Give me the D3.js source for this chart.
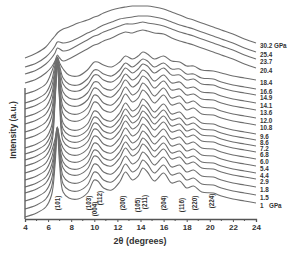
<!DOCTYPE html>
<html>
<head>
<meta charset="utf-8">
<script src="https://cdn.jsdelivr.net/npm/d3@7"></script>
<style>
  body { margin: 0; background: #fff; }
  text { font-family: "Liberation Sans", Arial, sans-serif; }
</style>
</head>
<body>
<div id="viz"></div>
<script>
const width = 300;
const height = 258;
const margin = {top: 7, right: 44, bottom: 39, left: 25};

// 2theta sample points (degrees)
const twoTheta = [4, 5, 5.8, 6.3, 6.6, 6.8, 7.0, 7.3, 7.8, 8.6, 9.4, 10.0, 10.3, 10.8, 11.5, 12.2,
                  12.7, 13.3, 13.8, 14.2, 14.6, 15.2, 16.0, 16.7, 17.4, 18.0, 18.6, 19.3, 20.3, 21.0, 22, 23, 24];

// pressure labels, bottom curve first
const pressures = ['1', '1.5', '1.8', '2.9', '4.4', '5.4', '6.0', '6.8', '7.2', '8.6', '9.6', '10.8',
                   '12.0', '13.6', '14.1', '14.9', '16.6', '18.4', '20.4', '23.7', '25.4', '30.2'];

// intensity (a.u., stacked)
const s1_0  = [2, 6, 12, 24, 54, 89, 54, 27, 21, 20, 26, 39, 38, 31, 29, 37, 47, 39, 43, 51, 47, 38, 46, 36, 38, 31, 33, 27, 26, 23, 20, 18, 16];
const s1_5  = [10, 14, 20, 32, 61, 90, 62, 35, 29, 28, 34, 47, 46, 39, 37, 45, 55, 47, 51, 59, 55, 46, 54, 44, 46, 39, 41, 35, 34, 31, 28, 26, 24];
const s1_8  = [18, 22, 28, 40, 66, 90, 67, 43, 37, 36, 42, 55, 54, 47, 45, 53, 63, 55, 59, 67, 63, 54, 62, 52, 54, 47, 49, 43, 42, 39, 36, 34, 32];
const s2_9  = [26, 30, 36, 48, 70, 91, 71, 51, 45, 44, 50, 63, 62, 55, 53, 61, 71, 63, 67, 75, 71, 62, 70, 60, 62, 55, 57, 51, 50, 47, 44, 42, 40];
const s4_4  = [32, 36, 42, 54, 73, 91, 74, 57, 51, 50, 56, 69, 68, 61, 59, 67, 77, 69, 73, 81, 77, 68, 76, 66, 68, 61, 63, 57, 56, 53, 50, 48, 46];
const s5_4  = [39, 43, 49, 61, 77, 92, 78, 64, 58, 57, 63, 76, 75, 68, 66, 74, 84, 76, 80, 88, 84, 75, 83, 73, 75, 68, 70, 64, 63, 60, 57, 55, 53];
const s6_0  = [46, 50, 56, 68, 80, 92, 81, 71, 65, 64, 70, 83, 82, 75, 73, 81, 91, 83, 87, 95, 91, 82, 90, 80, 82, 75, 77, 71, 70, 67, 64, 62, 60];
const s6_8  = [53, 57, 63, 75, 116, 157, 117, 78, 72, 71, 77, 90, 89, 82, 80, 88, 98, 90, 94, 102, 98, 89, 97, 87, 89, 82, 84, 78, 77, 74, 71, 69, 67];
const s7_2  = [59, 63, 69, 81, 120, 158, 120, 84, 78, 77, 83, 96, 95, 88, 86, 94, 104, 96, 100, 108, 104, 95, 103, 93, 95, 88, 90, 84, 83, 80, 77, 75, 73];
const s8_6  = [65, 69, 75, 87, 123, 158, 123, 90, 84, 83, 89, 102, 101, 94, 92, 100, 110, 102, 106, 114, 110, 101, 109, 99, 101, 94, 96, 90, 89, 86, 83, 81, 79];
const s9_6  = [71, 75, 81, 93, 126, 159, 126, 96, 90, 89, 95, 108, 107, 100, 98, 106, 116, 108, 112, 120, 116, 107, 115, 105, 107, 100, 102, 96, 95, 92, 89, 87, 85];
const s10_8 = [80, 84, 90, 102, 131, 159, 131, 105, 99, 98, 104, 117, 116, 109, 107, 115, 125, 117, 121, 129, 125, 116, 124, 114, 116, 109, 111, 105, 104, 101, 98, 96, 94];
const s12_0 = [87, 91, 97, 109, 139, 160, 139, 112, 106, 105, 111, 124, 123, 116, 114, 122, 132, 124, 128, 136, 132, 123, 131, 121, 123, 116, 118, 112, 111, 108, 105, 103, 101];
const s13_6 = [95, 99, 105, 117, 142, 160, 142, 120, 114, 113, 119, 131, 130, 124, 122, 130, 139, 132, 136, 143, 140, 131, 138, 129, 130, 124, 125, 120, 119, 116, 113, 111, 109];
const s14_1 = [102, 106, 112, 124, 146, 161, 146, 127, 121, 120, 126, 137, 137, 131, 129, 136, 145, 139, 143, 149, 146, 138, 144, 136, 137, 131, 132, 127, 126, 123, 120, 118, 116];
const s14_9 = [110, 114, 120, 132, 150, 161, 150, 135, 129, 128, 134, 144, 144, 139, 137, 143, 151, 146, 150, 155, 153, 146, 151, 144, 144, 139, 140, 135, 134, 131, 128, 126, 124];
const s16_6 = [116, 120, 126, 138, 154, 162, 153, 141, 135, 134, 140, 149, 149, 145, 143, 149, 156, 152, 156, 160, 158, 152, 156, 150, 150, 145, 145, 141, 140, 137, 134, 132, 130];
const s18_4 = [125, 129, 135, 147, 157, 162, 156, 150, 144, 143, 149, 157, 157, 154, 152, 157, 163, 160, 163, 167, 165, 160, 163, 158, 157, 153, 153, 149, 148, 146, 143, 141, 139];
const s20_4 = [136, 140, 146, 152, 158, 164, 161, 158, 160, 165, 170, 174, 175, 178, 181, 185, 187, 186, 188, 189, 188, 186, 185, 181, 178, 176, 174, 171, 167, 164, 160, 155, 151];
const s23_7 = [145, 149, 155, 161, 166, 171, 170, 168, 169, 174, 179, 183, 184, 187, 190, 193, 195, 195, 196, 197, 196, 195, 193, 190, 187, 185, 183, 180, 176, 173, 169, 164, 160];
const s25_4 = [152, 156, 162, 168, 173, 177, 177, 176, 177, 181, 186, 189, 191, 194, 197, 200, 201, 202, 203, 203, 203, 202, 200, 197, 194, 192, 190, 187, 183, 180, 176, 171, 167];
const s30_2 = [161, 166, 172, 179, 183, 186, 188, 190, 192, 196, 199, 202, 203, 206, 209, 211, 212, 213, 213, 213, 213, 212, 210, 207, 204, 201, 199, 196, 192, 189, 185, 180, 176];

const series = [s1_0, s1_5, s1_8, s2_9, s4_4, s5_4, s6_0, s6_8, s7_2, s8_6, s9_6, s10_8,
                s12_0, s13_6, s14_1, s14_9, s16_6, s18_4, s20_4, s23_7, s25_4, s30_2];

// reflections
const hkl = ['(101)', '(103)', '(004)', '(112)', '(200)', '(105)', '(211)', '(204)', '(116)', '(220)', '(224)'];
const hklPos = [6.8, 9.5, 10.0, 10.5, 12.5, 13.8, 14.4, 16.0, 17.6, 18.7, 20.2];

const xTicks = [4, 6, 8, 10, 12, 14, 16, 18, 20, 22, 24];

const xScale = d3.scaleLinear().domain([4, 24]).range([margin.left, width - margin.right]);
const yScale = d3.scaleLinear().domain([0, 212]).range([height - margin.bottom, margin.top]);

const svg = d3.select('#viz')
    .append('svg')
        .attr('width', width)
        .attr('height', height);

const line = d3.line()
    .x((d, i) => xScale(twoTheta[i]))
    .y(d => yScale(d))
    .curve(d3.curveCatmullRom.alpha(0.5));

svg.append('g')
    .selectAll('path')
    .data(series)
    .join('path')
        .attr('d', line)
        .attr('fill', 'none')
        .attr('stroke', '#6e6e6e')
        .attr('stroke-width', 1.1);

// x axis
const axisY = height - margin.bottom;
const xAxis = svg.append('g')
    .attr('transform', `translate(0, ${axisY})`)
    .call(d3.axisBottom(xScale).tickValues(xTicks).tickSize(3).tickPadding(2).tickFormat(d3.format('d')));
xAxis.select('.domain').attr('stroke', '#555').attr('stroke-width', 1.3);
xAxis.selectAll('.tick line').attr('stroke', '#555');
xAxis.selectAll('text')
    .attr('font-size', 8)
    .attr('font-weight', 'bold')
    .attr('fill', '#333');

svg.append('g')
    .selectAll('line')
    .data(d3.range(5, 24, 2))
    .join('line')
        .attr('x1', d => xScale(d))
        .attr('x2', d => xScale(d))
        .attr('y1', axisY)
        .attr('y2', axisY + 2)
        .attr('stroke', '#555');

// y axis line
svg.append('line')
    .attr('x1', margin.left)
    .attr('x2', margin.left)
    .attr('y1', 88)
    .attr('y2', axisY)
    .attr('stroke', '#555')
    .attr('stroke-width', 1.3);

svg.append('text')
    .attr('x', 140)
    .attr('y', 244)
    .attr('text-anchor', 'middle')
    .attr('font-size', 9)
    .attr('font-weight', 'bold')
    .attr('fill', '#333')
    .text('2θ (degrees)');

svg.append('text')
    .attr('transform', 'translate(16, 130) rotate(-90)')
    .attr('text-anchor', 'middle')
    .attr('font-size', 8.5)
    .attr('font-weight', 'bold')
    .attr('fill', '#333')
    .text('Intensity (a.u.)');

// pressure labels at the right end of each pattern
const labelX = xScale(24) + 4;
const labels = svg.append('g')
    .selectAll('text')
    .data(series)
    .join('text')
        .attr('x', labelX)
        .attr('y', d => yScale(d[d.length - 1]) + 5.3)
        .attr('font-size', 6.3)
        .attr('font-weight', 'bold')
        .attr('fill', '#333');

labels.each(function(d, i) {
    const t = d3.select(this);
    if (i === series.length - 1) {
        t.text(pressures[i] + ' GPa');
    } else if (i === 0) {
        t.append('tspan').text(pressures[i]);
        t.append('tspan').attr('x', labelX + 9).text('GPa');
    } else {
        t.text(pressures[i]);
    }
});

// reflection labels, rotated
const hklLift = [0, 0, 6, -5, 0, 2, -1, 0, 2, 0, -2];
svg.append('g')
    .selectAll('text')
    .data(hkl)
    .join('text')
        .attr('transform', (d, i) => `translate(${xScale(hklPos[i]) + 2.3}, ${203 + hklLift[i]}) rotate(-90)`)
        .attr('text-anchor', 'middle')
        .attr('font-size', 6.3)
        .attr('font-weight', 'bold')
        .attr('fill', '#333')
        .text(d => d);
</script>
</body>
</html>
